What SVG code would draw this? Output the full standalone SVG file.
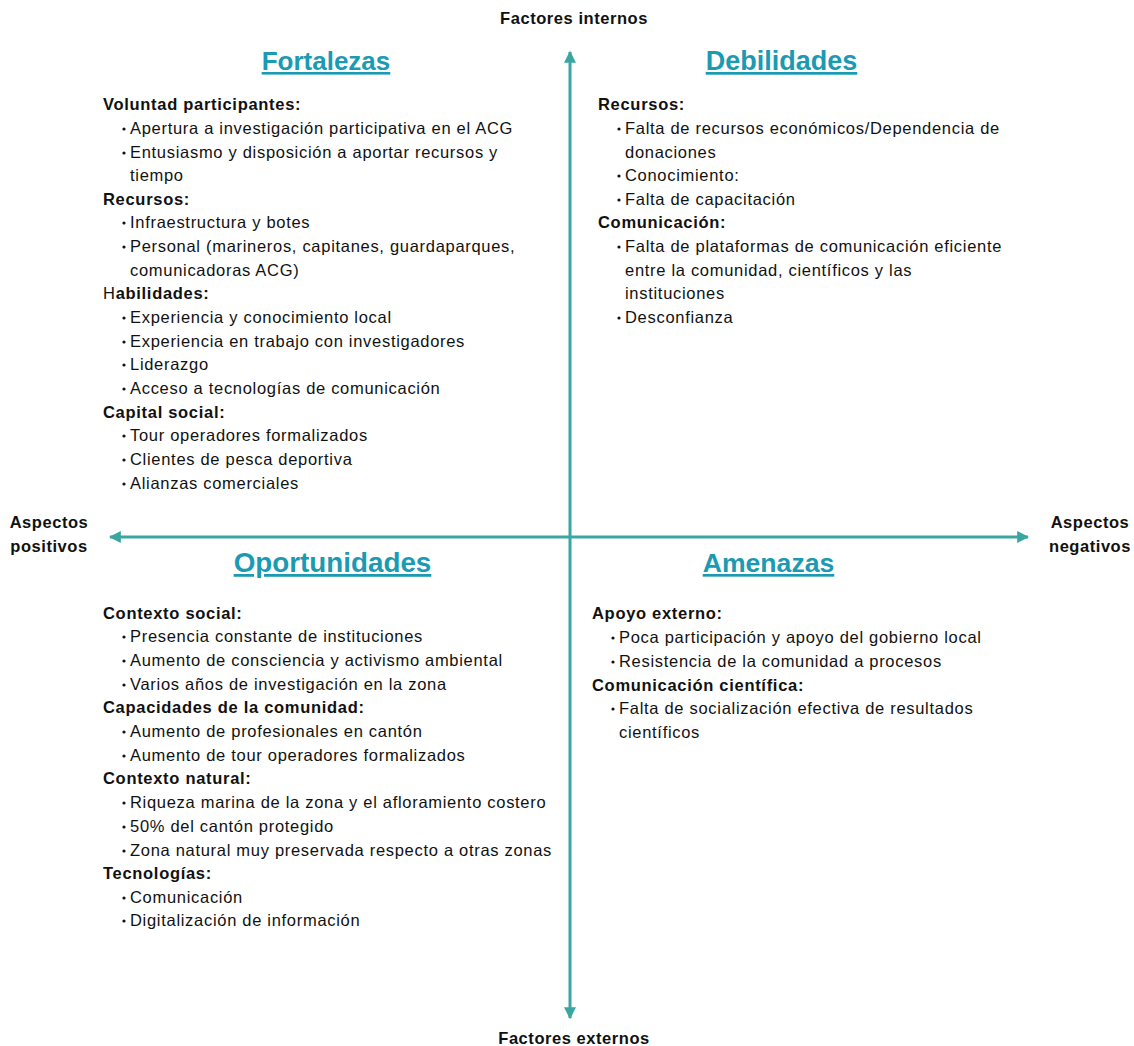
<svg xmlns="http://www.w3.org/2000/svg" width="1134" height="1046" viewBox="0 0 1134 1046">
<defs>
<marker id="ah" viewBox="0 0 10 10" refX="9" refY="5" markerWidth="4" markerHeight="4" orient="auto-start-reverse" markerUnits="strokeWidth">
<path d="M0,0 L10,5 L0,10 z" fill="#3aa6a2"/>
</marker>
<style>
text{font-family:"Liberation Sans",Arial,sans-serif;fill:#111;}
.ax{font-size:16.5px;font-weight:bold;text-anchor:middle;letter-spacing:0.55px;}
.ti{font-weight:bold;fill:#1b9ab3;text-anchor:middle;text-decoration:underline;}
.b{font-size:16.5px;letter-spacing:0.7px;}
.h{font-weight:bold;}
.dots circle{fill:#111;}
</style>
</defs>
<rect width="1134" height="1046" fill="#fff"/>
<g id="connectors" stroke="#3aa6a2" stroke-width="3" fill="none">
<line x1="570" y1="1018" x2="570" y2="52" marker-end="url(#ah)" marker-start="url(#ah)"/>
<line x1="110" y1="537" x2="1028" y2="537" marker-end="url(#ah)" marker-start="url(#ah)"/>
</g>
<g id="axis-labels">
<text class="ax" x="574" y="24">Factores internos</text>
<text class="ax" x="574" y="1044">Factores externos</text>
<text class="ax" x="49" y="528">Aspectos</text>
<text class="ax" x="49" y="552">positivos</text>
<text class="ax" x="1090" y="528">Aspectos</text>
<text class="ax" x="1090" y="552">negativos</text>
</g>
<g id="fortalezas">
<text class="ti" x="326" y="70" font-size="26">Fortalezas</text>
<g class="dots">
<circle cx="124" cy="129" r="1.6"/><circle cx="124" cy="153" r="1.6"/><circle cx="124" cy="223" r="1.6"/><circle cx="124" cy="247" r="1.6"/><circle cx="124" cy="318" r="1.6"/><circle cx="124" cy="342" r="1.6"/><circle cx="124" cy="365" r="1.6"/><circle cx="124" cy="389" r="1.6"/><circle cx="124" cy="436" r="1.6"/><circle cx="124" cy="460" r="1.6"/><circle cx="124" cy="484" r="1.6"/>
</g>
<text class="b">
<tspan class="h" x="103" y="110">Voluntad participantes:</tspan>
<tspan x="130" y="134">Apertura a investigación participativa en el ACG</tspan>
<tspan x="130" y="158">Entusiasmo y disposición a aportar recursos y</tspan>
<tspan x="130" y="181">tiempo</tspan>
<tspan class="h" x="103" y="205">Recursos:</tspan>
<tspan x="130" y="228">Infraestructura y botes</tspan>
<tspan x="130" y="252">Personal (marineros, capitanes, guardaparques,</tspan>
<tspan x="130" y="276">comunicadoras ACG)</tspan>
<tspan x="103" y="299">H</tspan><tspan class="h">abilidades:</tspan>
<tspan x="130" y="323">Experiencia y conocimiento local</tspan>
<tspan x="130" y="347">Experiencia en trabajo con investigadores</tspan>
<tspan x="130" y="370">Liderazgo</tspan>
<tspan x="130" y="394">Acceso a tecnologías de comunicación</tspan>
<tspan class="h" x="103" y="418">Capital social:</tspan>
<tspan x="130" y="441">Tour operadores formalizados</tspan>
<tspan x="130" y="465">Clientes de pesca deportiva</tspan>
<tspan x="130" y="489">Alianzas comerciales</tspan>
</text>
</g>
<g id="debilidades">
<text class="ti" x="781.5" y="70" font-size="27">Debilidades</text>
<g class="dots">
<circle cx="619" cy="129" r="1.6"/><circle cx="619" cy="176" r="1.6"/><circle cx="619" cy="200" r="1.6"/><circle cx="619" cy="247" r="1.6"/><circle cx="619" cy="318" r="1.6"/>
</g>
<text class="b">
<tspan class="h" x="598" y="110">Recursos:</tspan>
<tspan x="625" y="134">Falta de recursos económicos/Dependencia de</tspan>
<tspan x="625" y="158">donaciones</tspan>
<tspan x="625" y="181">Conocimiento:</tspan>
<tspan x="625" y="205">Falta de capacitación</tspan>
<tspan class="h" x="598" y="228">Comunicación:</tspan>
<tspan x="625" y="252">Falta de plataformas de comunicación eficiente</tspan>
<tspan x="625" y="276">entre la comunidad, científicos y las</tspan>
<tspan x="625" y="299">instituciones</tspan>
<tspan x="625" y="323">Desconfianza</tspan>
</text>
</g>
<g id="oportunidades">
<text class="ti" x="332.5" y="572" font-size="27.8">Oportunidades</text>
<g class="dots">
<circle cx="124" cy="637" r="1.6"/><circle cx="124" cy="661" r="1.6"/><circle cx="124" cy="685" r="1.6"/><circle cx="124" cy="732" r="1.6"/><circle cx="124" cy="756" r="1.6"/><circle cx="124" cy="803" r="1.6"/><circle cx="124" cy="827" r="1.6"/><circle cx="124" cy="851" r="1.6"/><circle cx="124" cy="898" r="1.6"/><circle cx="124" cy="921" r="1.6"/>
</g>
<text class="b">
<tspan class="h" x="103" y="619">Contexto social:</tspan>
<tspan x="130" y="642">Presencia constante de instituciones</tspan>
<tspan x="130" y="666">Aumento de consciencia y activismo ambiental</tspan>
<tspan x="130" y="690">Varios años de investigación en la zona</tspan>
<tspan class="h" x="103" y="713">Capacidades de la comunidad:</tspan>
<tspan x="130" y="737">Aumento de profesionales en cantón</tspan>
<tspan x="130" y="761">Aumento de tour operadores formalizados</tspan>
<tspan class="h" x="103" y="784">Contexto natural:</tspan>
<tspan x="130" y="808">Riqueza marina de la zona y el afloramiento costero</tspan>
<tspan x="130" y="832">50% del cantón protegido</tspan>
<tspan x="130" y="856">Zona natural muy preservada respecto a otras zonas</tspan>
<tspan class="h" x="103" y="879">Tecnologías:</tspan>
<tspan x="130" y="903">Comunicación</tspan>
<tspan x="130" y="926">Digitalización de información</tspan>
</text>
</g>
<g id="amenazas">
<text class="ti" x="768.5" y="572" font-size="26.6">Amenazas</text>
<g class="dots">
<circle cx="613" cy="638" r="1.6"/><circle cx="613" cy="662" r="1.6"/><circle cx="613" cy="709" r="1.6"/>
</g>
<text class="b">
<tspan class="h" x="592" y="619">Apoyo externo:</tspan>
<tspan x="619" y="643">Poca participación y apoyo del gobierno local</tspan>
<tspan x="619" y="667">Resistencia de la comunidad a procesos</tspan>
<tspan class="h" x="592" y="691">Comunicación científica:</tspan>
<tspan x="619" y="714">Falta de socialización efectiva de resultados</tspan>
<tspan x="619" y="738">científicos</tspan>
</text>
</g>
</svg>
